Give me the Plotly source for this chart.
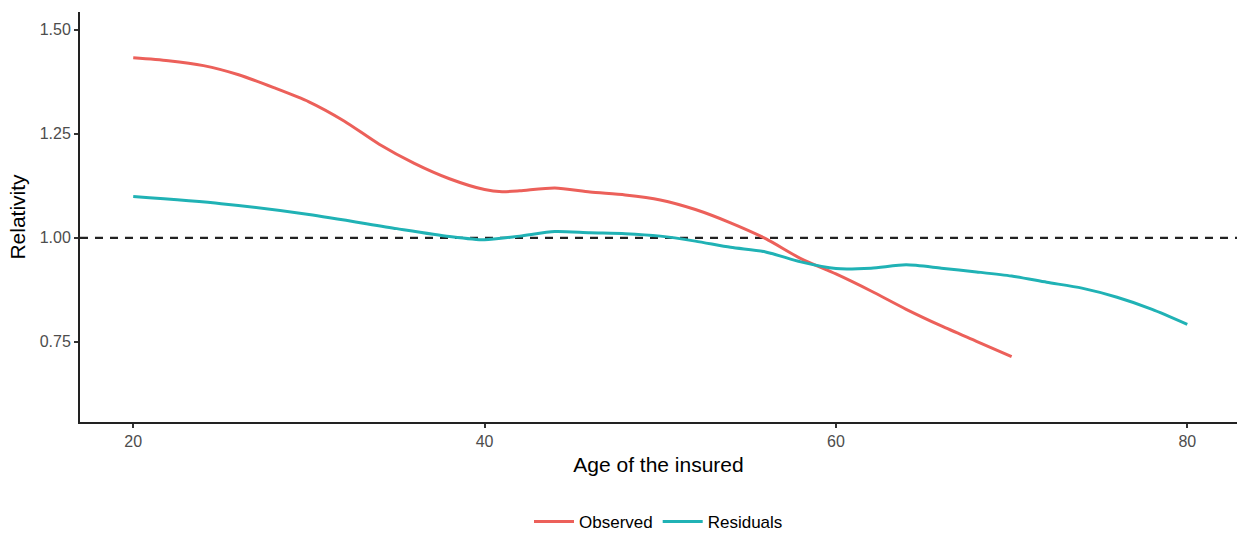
import plotly.graph_objects as go

# Smoothed relativity curves by age of the insured
obs_age = [20, 22, 24, 26, 28, 30, 32, 34, 36, 38, 40, 41, 42, 44, 46, 48, 50,
           52, 54, 56, 58, 60, 62, 64, 66, 68, 70]
obs_rel = [1.433, 1.426, 1.414, 1.392, 1.361, 1.327, 1.281, 1.225, 1.179, 1.142,
           1.116, 1.111, 1.113, 1.120, 1.110, 1.103, 1.091, 1.068, 1.036,
           0.998, 0.950, 0.913, 0.872, 0.828, 0.788, 0.751, 0.714]

res_age = [20, 25, 30, 35, 38, 40, 42, 44, 46, 48, 50, 52, 54, 56, 58, 60, 62, 64,
           66, 68, 70, 72, 74, 76, 78, 80]
res_rel = [1.099, 1.082, 1.056, 1.022, 1.003, 0.995, 1.004, 1.015, 1.012, 1.010,
           1.004, 0.992, 0.977, 0.966, 0.942, 0.926, 0.927, 0.935, 0.927, 0.918,
           0.908, 0.893, 0.879, 0.857, 0.828, 0.792]

x_ticks = [20, 40, 60, 80]
y_ticks = [0.75, 1.00, 1.25, 1.50]
y_tick_text = ["0.75", "1.00", "1.25", "1.50"]
reference_level = 1.0

RED = "#EC605A"
TEAL = "#20B2B5"
FONT = "Liberation Sans, Arial, sans-serif"

fig = go.Figure()
fig.add_trace(go.Scatter(x=obs_age, y=obs_rel, mode="lines", name="Observed",
                         line=dict(color=RED, width=3, shape="spline", smoothing=0.7)))
fig.add_trace(go.Scatter(x=res_age, y=res_rel, mode="lines", name="Residuals",
                         line=dict(color=TEAL, width=3, shape="spline", smoothing=0.7)))

fig.add_shape(type="line", xref="paper", yref="y", x0=0, x1=1,
              y0=reference_level, y1=reference_level,
              line=dict(color="#222222", width=2.2, dash="8px,7px"), layer="below")

fig.update_layout(
    width=1239, height=536,
    margin=dict(l=80, r=2, t=12, b=114, autoexpand=False),
    plot_bgcolor="white", paper_bgcolor="white",
    font=dict(family=FONT, color="#000000"),
    showlegend=True,
    legend=dict(orientation="h", x=0.5, xanchor="center",
                yref="container", y=0.026, yanchor="middle",
                font=dict(size=17, color="#000000", family=FONT),
                itemwidth=40, tracegroupgap=0),
    xaxis=dict(range=[16.97, 82.83], tickvals=x_ticks, ticks="outside", ticklen=4,
               tickwidth=1.5, tickcolor="#333333",
               showline=True, linecolor="#222222", linewidth=2, showgrid=False,
               zeroline=False, tickfont=dict(size=16, color="#4D4D4D", family=FONT),
               title=dict(text="Age of the insured", font=dict(size=21, color="#000000"),
                          standoff=8)),
    yaxis=dict(range=[0.557, 1.543], tickvals=y_ticks, ticktext=y_tick_text,
               ticks="outside", ticklen=4, tickwidth=1.5, tickcolor="#333333",
               showline=True, linecolor="#222222", linewidth=2, showgrid=False,
               zeroline=False, tickfont=dict(size=16, color="#4D4D4D", family=FONT),
               title=dict(text="Relativity", font=dict(size=21, color="#000000"),
                          standoff=8)),
)

fig.write_html("out.html")
